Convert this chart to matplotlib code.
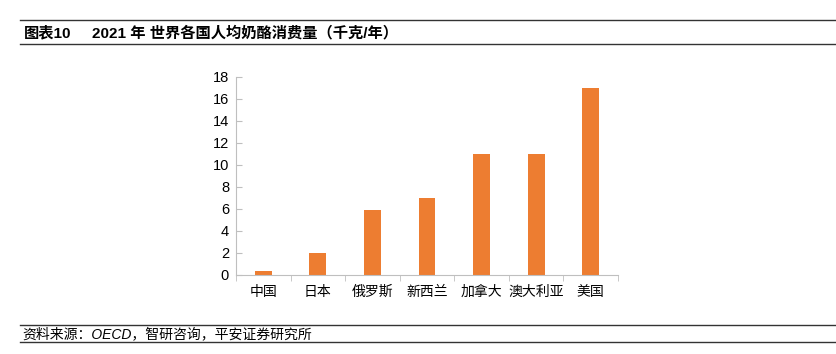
import matplotlib
matplotlib.use('Agg')
import matplotlib.pyplot as plt
from matplotlib.lines import Line2D
import numpy as np

plt.rcParams['font.family'] = ['Liberation Sans', 'Noto Sans CJK SC', 'DejaVu Sans']

countries = ['中国', '日本', '俄罗斯', '新西兰', '加拿大', '澳大利亚', '美国']
values = [0.35, 2.0, 5.9, 7.0, 11.0, 11.0, 17.0]
yticks = [0, 2, 4, 6, 8, 10, 12, 14, 16, 18]

W, H = 836, 354
fig = plt.figure(figsize=(W / 100, H / 100), dpi=100)
ax = fig.add_axes([236 / W, 1 - 275 / H, (618 - 236) / W, (275 - 77) / H])

x = np.arange(len(countries))
ax.bar(x, values, width=0.31, color='#ED7D31')
ax.set_xlim(-0.5, len(countries) - 0.5)
ax.set_ylim(0, 18)
ax.set_yticks(yticks)
ax.set_xticks(x)
ax.set_xticklabels(countries)
ax.set_xticks(np.arange(-0.5, len(countries)), minor=True)
ax.tick_params(axis='x', which='major', length=0, labelsize=10, pad=7)
ax.tick_params(axis='x', which='minor', length=4, color='#BFBFBF')
ax.tick_params(axis='y', length=4, color='#BFBFBF', labelsize=10.5, pad=5, direction='in')
for s in ['top', 'right']:
    ax.spines[s].set_visible(False)
for s in ['left', 'bottom']:
    ax.spines[s].set_color('#BFBFBF')
    ax.spines[s].set_linewidth(0.8)

# header / footer lines
def hline(y, lw):
    fig.lines.append(Line2D([20 / W, 1], [1 - y / H, 1 - y / H], transform=fig.transFigure,
                            color='#333333', lw=lw))
hline(20, 1.0)
hline(44, 1.0)
hline(325, 1.0)
hline(342, 1.0)

fig.text(24 / W, 1 - 33 / H, '图表10', fontsize=11, fontweight='bold', va='center')
fig.text(92 / W, 1 - 33 / H, '2021 年 世界各国人均奶酪消费量（千克/年）', fontsize=11,
         fontweight='bold', va='center')
fig.text(22 / W, 1 - 334 / H, '资料来源：OECD，智研咨询，平安证券研究所', fontsize=10,
         style='italic', va='center')

fig.savefig('out.png', dpi=100)
